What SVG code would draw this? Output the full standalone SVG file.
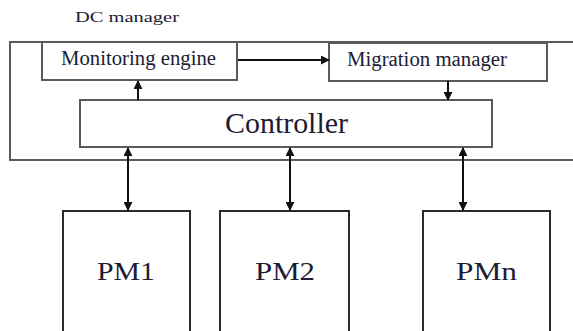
<svg xmlns="http://www.w3.org/2000/svg" width="573" height="331" viewBox="0 0 573 331">
  <style>
    .box { fill: #ffffff; stroke: #5a5a5a; stroke-width: 2; }
    .pm { fill: #ffffff; stroke: #2a2a2a; stroke-width: 2; }
    .label { font-family: "Liberation Serif", "Times New Roman", serif; fill: #1c1c34; }
    .wire { stroke: #111111; stroke-width: 2; fill: none; }
  </style>
  <defs>
    <marker id="head" viewBox="0 0 10 10" refX="9" refY="5" markerWidth="4.5" markerHeight="4.5" orient="auto-start-reverse" markerUnits="strokeWidth">
      <path d="M0,0 L10,5 L0,10 z" fill="#111111"/>
    </marker>
  </defs>
  <rect width="573" height="331" fill="#ffffff"/>

  <g id="dc-manager">
    <rect class="box" x="10" y="42" width="580" height="118"/>
    <text class="label" x="75" y="22" font-size="15" textLength="104" lengthAdjust="spacingAndGlyphs">DC manager</text>
  </g>

  <g id="monitoring-engine">
    <rect class="box" x="42" y="42" width="195" height="38"/>
    <text class="label" x="61" y="65" font-size="20" textLength="155" lengthAdjust="spacingAndGlyphs">Monitoring engine</text>
  </g>

  <g id="migration-manager">
    <rect class="box" x="329" y="43" width="218" height="38"/>
    <text class="label" x="347" y="66" font-size="20" textLength="160" lengthAdjust="spacingAndGlyphs">Migration manager</text>
  </g>

  <g id="controller">
    <rect class="box" x="80" y="100" width="412" height="47"/>
    <text class="label" x="225" y="133" font-size="30" textLength="123" lengthAdjust="spacingAndGlyphs">Controller</text>
  </g>

  <g id="pm1">
    <rect class="pm" x="63" y="211" width="127" height="140"/>
    <text class="label" x="97" y="280" font-size="26" textLength="58" lengthAdjust="spacingAndGlyphs">PM1</text>
  </g>

  <g id="pm2">
    <rect class="pm" x="220" y="211" width="129" height="140"/>
    <text class="label" x="255" y="280" font-size="26" textLength="60" lengthAdjust="spacingAndGlyphs">PM2</text>
  </g>

  <g id="pmn">
    <rect class="pm" x="423" y="211" width="127" height="140"/>
    <text class="label" x="456" y="280" font-size="26" textLength="61" lengthAdjust="spacingAndGlyphs">PMn</text>
  </g>

  <g id="connectors">
    <line class="wire" x1="238" y1="60" x2="329" y2="60" marker-end="url(#head)"/>
    <line class="wire" x1="138" y1="100" x2="138" y2="81" marker-end="url(#head)"/>
    <line class="wire" x1="448" y1="81" x2="448" y2="100" marker-end="url(#head)"/>
    <line class="wire" x1="128" y1="148" x2="128" y2="210" marker-start="url(#head)" marker-end="url(#head)"/>
    <line class="wire" x1="290" y1="148" x2="290" y2="210" marker-start="url(#head)" marker-end="url(#head)"/>
    <line class="wire" x1="463" y1="148" x2="463" y2="210" marker-start="url(#head)" marker-end="url(#head)"/>
  </g>
</svg>
